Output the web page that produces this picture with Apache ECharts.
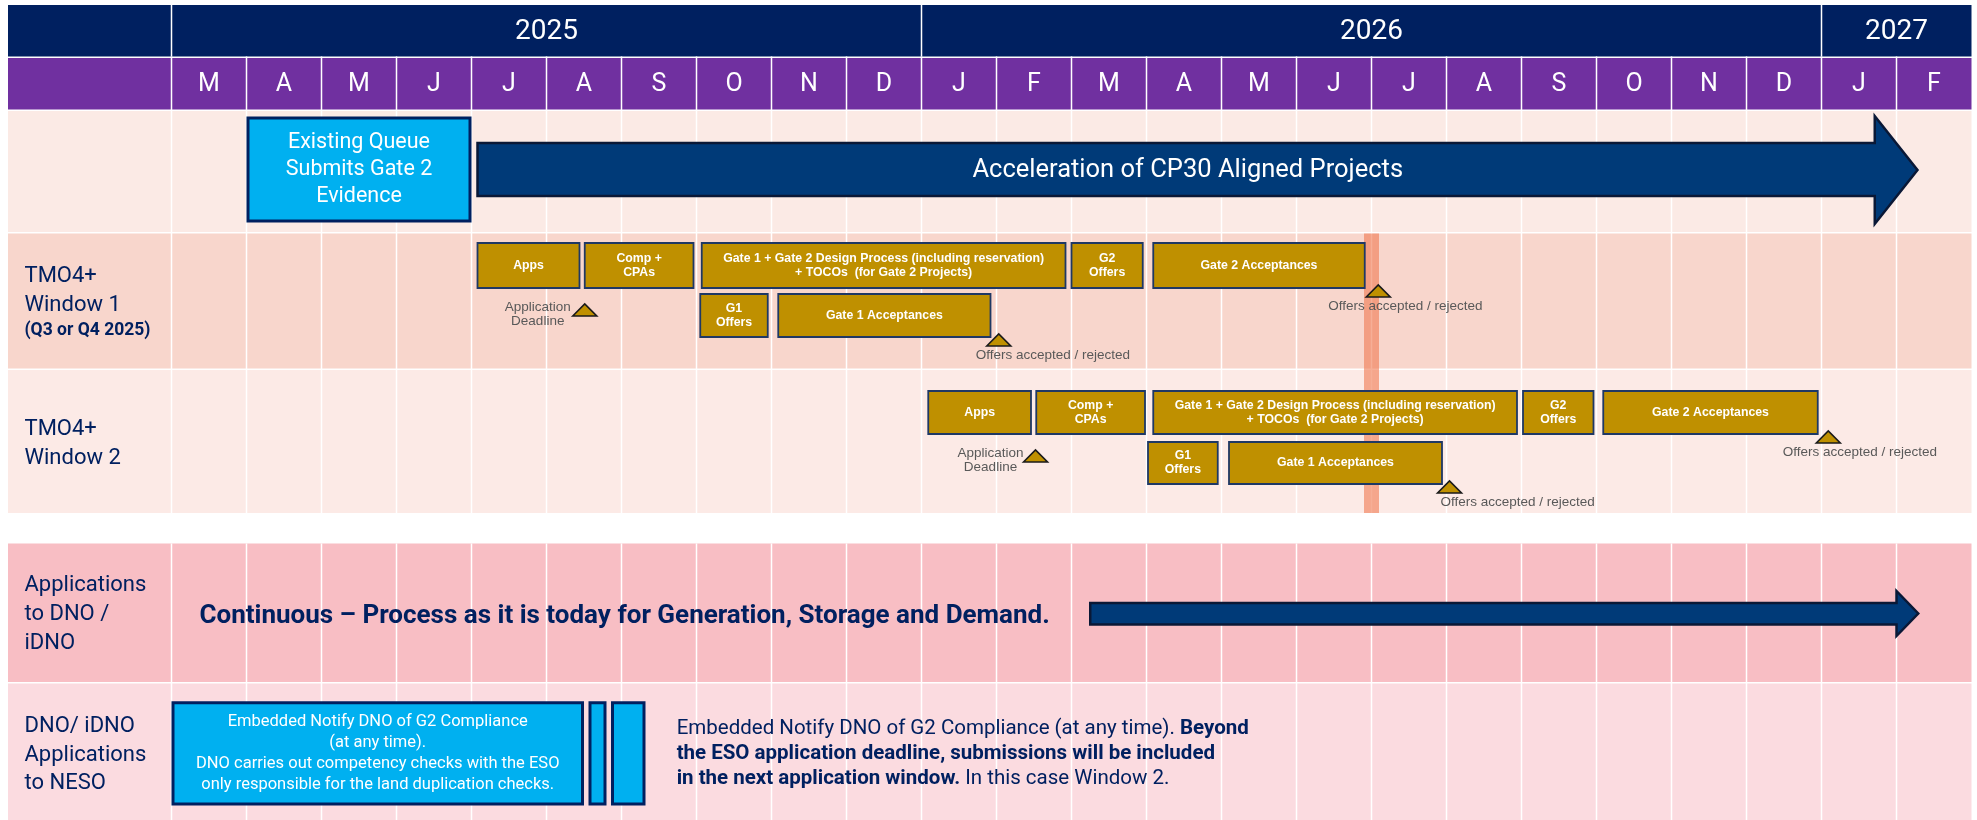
<!DOCTYPE html>
<html><head><meta charset="utf-8">
<script src="https://cdn.jsdelivr.net/npm/echarts@6/dist/echarts.min.js"></script>
<style>html,body{margin:0;padding:0;background:#fff;} #c{width:1977px;height:820px;}</style>
</head><body><div id="c"></div>
<script>
// ================= DATA =================
const months = ['M','A','M','J','J','A','S','O','N','D','J','F','M','A','M','J','J','A','S','O','N','D','J','F'];
const yearLabels = ['2025','2026','2027'];
const yearStart = [0, 10, 22];
const yearEnd = [10, 22, 24];

const rowKeys = ['year','month','r1','w1','w2','dno','neso'];
const rowLabelLines = {
  w1: ['TMO4+', 'Window 1', '(Q3 or Q4 2025)'],
  w2: ['TMO4+', 'Window 2'],
  dno: ['Applications', 'to DNO /', 'iDNO'],
  neso: ['DNO/ iDNO', 'Applications', 'to NESO']
};

// gold task bars, month index (0 = start of Mar 2025)
const taskNames = [
  'Apps', 'Comp +\nCPAs', 'Gate 1 + Gate 2 Design Process (including reservation)\n+ TOCOs  (for Gate 2 Projects)', 'G2\nOffers', 'Gate 2 Acceptances', 'G1\nOffers', 'Gate 1 Acceptances',
  'Apps', 'Comp +\nCPAs', 'Gate 1 + Gate 2 Design Process (including reservation)\n+ TOCOs  (for Gate 2 Projects)', 'G2\nOffers', 'Gate 2 Acceptances', 'G1\nOffers', 'Gate 1 Acceptances'
];
const taskStart = [4.08, 5.51, 7.07, 12.0, 13.09, 7.05, 8.09,   10.09, 11.53, 13.09, 18.02, 19.09, 13.02, 14.1];
const taskEnd   = [5.44, 6.96, 11.92, 12.95, 15.91, 7.95, 10.92, 11.46, 12.98, 17.94, 18.96, 21.95, 13.95, 16.94];
const taskRow   = ['w1','w1','w1','w1','w1','w1','w1', 'w2','w2','w2','w2','w2','w2','w2'];
const taskLane  = [0, 0, 0, 0, 0, 1, 1,  0, 0, 0, 0, 0, 1, 1];

// milestones (triangles)
const msText = ['Application\nDeadline', 'Offers accepted / rejected', 'Offers accepted / rejected',
                'Application\nDeadline', 'Offers accepted / rejected', 'Offers accepted / rejected'];
const msX    = [5.51, 11.03, 16.09, 11.52, 17.04, 22.09];
const msRow  = ['w1','w1','w1','w2','w2','w2'];
const msLane = [0, 1, 0, 0, 1, 0];
const msKind = ['deadline','offers','offers','deadline','offers','offers'];

// light-blue blocks
const blockText = ['Existing Queue\nSubmits Gate 2\nEvidence',
  'Embedded Notify DNO of G2 Compliance\n(at any time).\nDNO carries out competency checks with the ESO\nonly responsible for the land duplication checks.',
  '', ''];
const blockStart = [1, 0, 5.56, 5.86];
const blockEnd   = [4, 5.5, 5.8, 6.32];
const blockRow   = ['r1','neso','neso','neso'];

// block arrows
const arrowText     = ['Acceleration of CP30 Aligned Projects', ''];
const arrowStart    = [4.08, 12.25];
const arrowHeadBase = [22.71, 23.0];
const arrowTip      = [23.28, 23.29];
const arrowRow      = ['r1', 'dno'];

// vertical marker (start of Jul 2026)
const markerMonth = [16.0];

// free text notes
const continuousText = 'Continuous \u2013 Process as it is today for Generation, Storage and Demand.';
const noteText = '{n|Embedded Notify DNO of G2 Compliance (at any time). }{b|Beyond}\n{b|the ESO application deadline, submissions will be included}\n{b|in the next application window.}{n| In this case Window 2.}';

// ================= LAYOUT / STYLE =================
const ROW_Y = {year:[5,56.5], month:[58,109.5], r1:[111,232], w1:[233.5,368.5], w2:[370,513], dno:[543.5,682], neso:[683.5,820]};
const ROW_COLORS = {year:'#002060', month:'#7030A0', r1:'#FBEAE5', w1:'#F8D6CC', w2:'#FCEAE6', dno:'#F8BEC4', neso:'#FBDBE0'};
const LANE_Y = {w1:[[243,288],[294,337]], w2:[[391,434],[442,484]]};
const BLOCK_Y = {r1:[118,221], neso:[702.7,804]};
const BLOCK_FONT = [21.5, 16.5, 16, 16];
const BLOCK_LH = [26.7, 21.3, 20, 20];
const ARROW_Y = {r1:{body:[143,196], head:[116,224]}, dno:{body:[603,624.5], head:[591,636]}};
const ARROW_TEXT_X = [13.55, 0];
const LABEL_COLS = 2.18;
const LABEL_Y = {w1:[276,305,331], w2:[429,458], dno:[585,614,643], neso:[726,755,783]};
const MS_DX = [-47, -23, -50, -45, -9, -45.5];
const NAVY = '#002060';
const FONT = 'Roboto, "Noto Sans", sans-serif';
const SMALLFONT = '"Liberation Sans", Arial, sans-serif';

// ================= CHART =================
const chart = echarts.init(document.getElementById('c'), null, {renderer:'canvas'});

function bgItem(params, api) {
  const k = rowKeys[params.dataIndex];
  const [y0, y1] = ROW_Y[k];
  const a = api.coord([-LABEL_COLS, y0]), b = api.coord([24, y1]);
  return {type:'rect', shape:{x:a[0], y:a[1], width:b[0]-a[0], height:b[1]-a[1]}, style:{fill:ROW_COLORS[k]}};
}

function gridItem(params, api) {
  const i = params.dataIndex;
  const x = api.coord([i, 0])[0];
  const children = [];
  const segs = [[ROW_Y.month[0]-1.5, ROW_Y.w2[1]], [ROW_Y.dno[0], 820]];
  if (yearStart.indexOf(i) >= 0) segs.push([ROW_Y.year[0], ROW_Y.year[1]]);
  segs.forEach(s => {
    const y0 = api.coord([0, s[0]])[1], y1 = api.coord([0, s[1]])[1];
    children.push({type:'line', shape:{x1:x, y1:y0, x2:x, y2:y1}, style:{stroke:'#ffffff', lineWidth:1.5}});
  });
  return {type:'group', children};
}

function yearItem(params, api) {
  const i = params.dataIndex;
  const c = api.coord([(yearStart[i] + yearEnd[i]) / 2, (ROW_Y.year[0] + ROW_Y.year[1]) / 2]);
  return {type:'text', style:{text:yearLabels[i], x:c[0], y:c[1]+1, align:'center', verticalAlign:'middle',
    fill:'#ffffff', font:'28px ' + FONT}};
}

function monthItem(params, api) {
  const i = params.dataIndex;
  const c = api.coord([i + 0.5, (ROW_Y.month[0] + ROW_Y.month[1]) / 2]);
  return {type:'text', style:{text:months[i], x:c[0], y:c[1]+1, align:'center', verticalAlign:'middle',
    fill:'#ffffff', font:'25px ' + FONT}};
}

const labelData = [];
Object.keys(rowLabelLines).forEach(k => rowLabelLines[k].forEach((t, j) => labelData.push([k, j])));
function labelItem(params, api) {
  const [k, j] = labelData[params.dataIndex];
  const text = rowLabelLines[k][j];
  const bold = (k === 'w1' && j === 2);
  const p = api.coord([-LABEL_COLS, LABEL_Y[k][j]]);
  return {type:'text', style:{text, x:p[0] + 16.5, y:p[1], align:'left', verticalAlign:'middle', fill:NAVY,
    font:(bold ? 'bold 17.5px ' : '22px ') + FONT}};
}

function markerItem(params, api) {
  const x = api.coord([markerMonth[params.dataIndex], 0])[0];
  const y0 = api.coord([0, ROW_Y.w1[0]])[1], y1 = api.coord([0, ROW_Y.w2[1]])[1];
  return {type:'rect', shape:{x:x-7.5, y:y0, width:15, height:y1-y0}, style:{fill:'rgba(240,120,80,0.6)'}};
}

function blockItem(params, api) {
  const i = params.dataIndex;
  const [y0, y1] = BLOCK_Y[blockRow[i]];
  const a = api.coord([blockStart[i], y0]), b = api.coord([blockEnd[i], y1]);
  const children = [{type:'rect', shape:{x:a[0]+1.5, y:a[1], width:b[0]-a[0]-3, height:b[1]-a[1]},
    style:{fill:'#00B0F0', stroke:NAVY, lineWidth:3}}];
  if (blockText[i]) children.push({type:'text', style:{text:blockText[i], x:(a[0]+b[0])/2, y:(a[1]+b[1])/2,
    align:'center', verticalAlign:'middle', fill:'#ffffff', font:BLOCK_FONT[i] + 'px ' + FONT, lineHeight:BLOCK_LH[i]}});
  return {type:'group', children};
}

function arrowItem(params, api) {
  const i = params.dataIndex;
  const L = ARROW_Y[arrowRow[i]];
  const x0 = api.coord([arrowStart[i], 0])[0], xb = api.coord([arrowHeadBase[i], 0])[0], xt = api.coord([arrowTip[i], 0])[0];
  const Y = v => api.coord([0, v])[1];
  const bt = Y(L.body[0]), bb = Y(L.body[1]), ht = Y(L.head[0]), hb = Y(L.head[1]), ym = (ht + hb) / 2;
  const children = [{type:'polygon', shape:{points:[[x0,bt],[xb,bt],[xb,ht],[xt,ym],[xb,hb],[xb,bb],[x0,bb]]},
    style:{fill:'#003A78', stroke:'#0A1836', lineWidth:2.5, lineJoin:'miter'}}];
  if (arrowText[i]) {
    const cx = api.coord([ARROW_TEXT_X[i], 0])[0];
    children.push({type:'text', style:{text:arrowText[i], x:cx, y:(bt+bb)/2+1, align:'center', verticalAlign:'middle',
      fill:'#ffffff', font:'25.5px ' + FONT}});
  }
  return {type:'group', children};
}

function taskItem(params, api) {
  const i = params.dataIndex;
  const [y0, y1] = LANE_Y[taskRow[i]][taskLane[i]];
  const a = api.coord([taskStart[i], y0]), b = api.coord([taskEnd[i], y1]);
  return {type:'group', children:[
    {type:'rect', shape:{x:a[0], y:a[1], width:b[0]-a[0], height:b[1]-a[1]}, style:{fill:'#BF9000', stroke:'#1F3864', lineWidth:1.8}},
    {type:'text', style:{text:taskNames[i], x:(a[0]+b[0])/2, y:(a[1]+b[1])/2, align:'center', verticalAlign:'middle',
      fill:'#ffffff', font:'bold 12.3px ' + SMALLFONT, lineHeight:14}}
  ]};
}

function msItem(params, api) {
  const i = params.dataIndex;
  const laneB = LANE_Y[msRow[i]][msLane[i]][1];
  const top = msKind[i] === 'deadline' ? laneB + 16 : laneB - 3;
  const c = api.coord([msX[i], top]);
  const bot = api.coord([0, top + 12])[1];
  const tri = {type:'polygon', shape:{points:[[c[0]-12, bot],[c[0], c[1]],[c[0]+12, bot]]},
    style:{fill:'#BF9000', stroke:'#1a1a1a', lineWidth:1.6}};
  let txt;
  if (msKind[i] === 'deadline') {
    txt = {type:'text', style:{text:msText[i], x:c[0]+MS_DX[i], y:c[1]-4, align:'center', verticalAlign:'top',
      fill:'#595959', font:'13.5px ' + SMALLFONT, lineHeight:14}};
  } else {
    txt = {type:'text', style:{text:msText[i], x:c[0]+MS_DX[i], y:bot+9.5, align:'left', verticalAlign:'middle',
      fill:'#595959', font:'13.5px ' + SMALLFONT}};
  }
  return {type:'group', children:[tri, txt]};
}

function notesItem(params, api) {
  const p1 = api.coord([0.373, 616]);
  const p2 = api.coord([6.735, 729]);
  return {type:'group', children:[
    {type:'text', style:{text:continuousText, x:p1[0], y:p1[1], align:'left', verticalAlign:'middle', fill:NAVY,
      font:'bold 26px ' + FONT}},
    {type:'text', style:{text:noteText, x:p2[0], y:p2[1]-12.5, align:'left', verticalAlign:'top',
      rich:{
        n:{fontFamily:'Roboto', fontSize:20.5, fontWeight:'normal', fill:NAVY, color:NAVY, lineHeight:25},
        b:{fontFamily:'Roboto', fontSize:20.5, fontWeight:'bold', fill:NAVY, color:NAVY, lineHeight:25}
      }}}
  ]};
}

function cs(name, data, renderItem, z) {
  return {type:'custom', name, coordinateSystem:'cartesian2d', clip:false, silent:true, z,
    data: data.map((d, i) => [i, 0]), encode:{x:0, y:1}, renderItem};
}

chart.setOption({
  animation:false,
  backgroundColor:'#ffffff',
  grid:{left:171.5, right:5.5, top:0, bottom:0},
  xAxis:{type:'value', min:0, max:24, show:false},
  yAxis:{type:'value', min:0, max:820, inverse:true, show:false},
  series:[
    cs('bg', rowKeys, bgItem, 1),
    cs('grid', months, gridItem, 2),
    cs('years', yearLabels, yearItem, 3),
    cs('months', months, monthItem, 3),
    cs('labels', labelData, labelItem, 3),
    cs('marker', markerMonth, markerItem, 4),
    cs('blocks', blockText, blockItem, 5),
    cs('arrows', arrowText, arrowItem, 5),
    cs('tasks', taskNames, taskItem, 6),
    cs('milestones', msText, msItem, 7),
    cs('notes', [0], notesItem, 7)
  ]
});
</script></body></html>
